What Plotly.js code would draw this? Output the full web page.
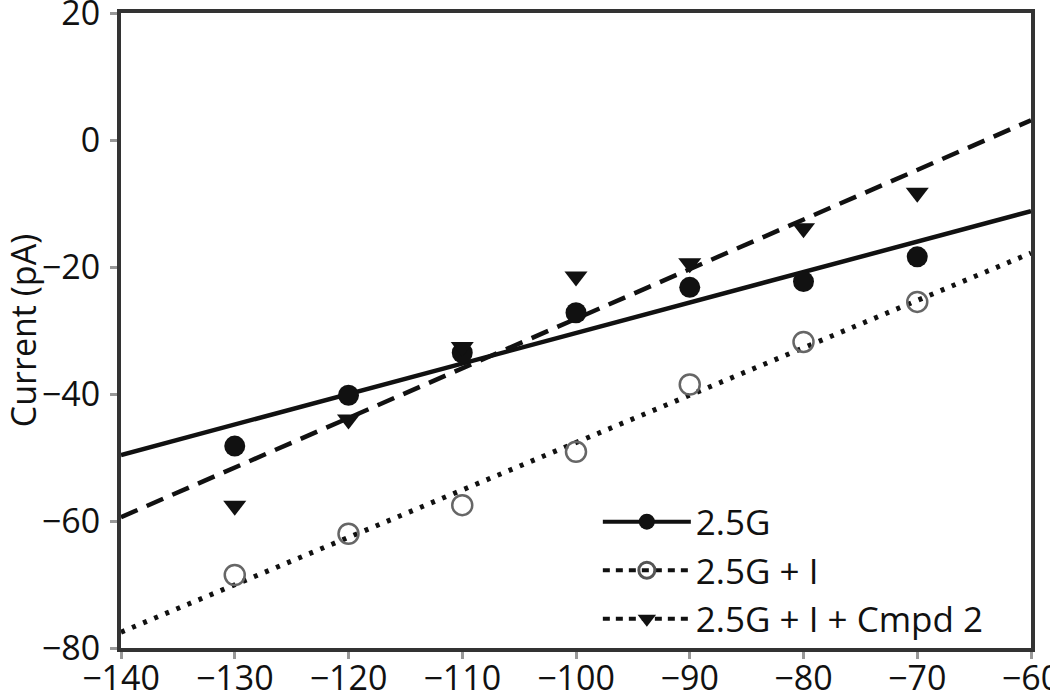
<!DOCTYPE html>
<html>
<head>
<meta charset="utf-8">
<script src="https://cdn.plot.ly/plotly-3.0.1.min.js"></script>
<style>html,body{margin:0;padding:0;background:#fff;}#chart{width:1050px;height:692px;}</style>
</head>
<body>
<div id="chart"></div>
<script>
// Membrane potential (mV)
const voltage = [-130, -120, -110, -100, -90, -80, -70];
// Measured currents (pA)
const g25 = [-48.2, -40.2, -33.5, -27.2, -23.2, -22.3, -18.4];
const g25I = [-68.5, -62.0, -57.5, -49.1, -38.5, -31.8, -25.5];
const g25ICmpd2 = [-57.6, -44.0, -32.6, -21.5, -19.4, -13.9, -8.3];
// Linear fit lines (read at the axis ends)
const fitX = [-140, -60];
const fitG25 = [-49.6, -11.2];
const fitG25I = [-77.5, -17.8];
const fitG25ICmpd2 = [-59.4, 3.1];
const seriesNames = ['2.5G', '2.5G + I', '2.5G + I + Cmpd 2'];
const xTickVals = [-140, -130, -120, -110, -100, -90, -80, -70, -60];
const xTickText = ['−140','−130','−120','−110','−100','−90','−80','−70','−60'];
const yTickVals = [-80, -60, -40, -20, 0, 20];
const yTickText = ['−80','−60','−40','−20','0','20'];

const black = '#111111';
const traces = [
  {x: fitX, y: fitG25, mode: 'lines', line: {color: black, width: 4.5}, showlegend: false, hoverinfo: 'skip'},
  {x: fitX, y: fitG25I, mode: 'lines', line: {color: black, width: 5, dash: '4px,8px'}, showlegend: false, hoverinfo: 'skip'},
  {x: fitX, y: fitG25ICmpd2, mode: 'lines', line: {color: black, width: 4.5, dash: '18px,10px'}, showlegend: false, hoverinfo: 'skip'},
  {x: voltage, y: g25, mode: 'markers', marker: {symbol: 'circle', size: 21, color: black}, showlegend: false},
  {x: voltage, y: g25I, mode: 'markers', marker: {symbol: 'circle-open', size: 20, color: '#666', line: {width: 2.5, color: '#666'}}, showlegend: false},
  {x: voltage, y: g25ICmpd2, mode: 'markers', marker: {symbol: 'triangle-down', size: 20, color: black}, showlegend: false},
  // legend entries
  {x: [null], y: [null], name: seriesNames[0], mode: 'lines+markers', line: {color: black, width: 4}, marker: {symbol: 'circle', size: 22, color: black}},
  {x: [null], y: [null], name: seriesNames[1], mode: 'lines+markers', line: {color: black, width: 4, dash: '7px,6px'}, marker: {symbol: 'circle-open', size: 20, color: '#555', line: {width: 3, color: '#555'}}},
  {x: [null], y: [null], name: seriesNames[2], mode: 'lines+markers', line: {color: black, width: 4, dash: '7px,6px'}, marker: {symbol: 'triangle-down', size: 22, color: black}}
];

const axisCommon = {
  showgrid: false, zeroline: false,
  showline: true, linecolor: '#333', linewidth: 4, mirror: true,
  ticks: 'outside', ticklen: 7, tickwidth: 3, tickcolor: '#999',
  ticklabeloverflow: 'allow',
  tickfont: {family: 'Open Sans, sans-serif', size: 34, color: '#111'}
};

const layout = {
  width: 1050, height: 692,
  margin: {l: 121, r: 19, t: 13, b: 44},
  paper_bgcolor: '#fff', plot_bgcolor: '#fff',
  font: {family: 'Open Sans, sans-serif', color: '#111'},
  xaxis: Object.assign({}, axisCommon, {range: [-140, -60], tickvals: xTickVals, ticktext: xTickText, ticklabelstandoff: -10}),
  yaxis: Object.assign({}, axisCommon, {range: [-80, 20], tickvals: yTickVals, ticktext: yTickText, ticklabelstandoff: 3,
    title: {text: 'Current (pA)', font: {family: 'Open Sans, sans-serif', size: 34, color: '#111'}, standoff: 6}}),
  legend: {x: 0.524, y: 0.245, xanchor: 'left', yanchor: 'top', bgcolor: 'rgba(0,0,0,0)', borderwidth: 0,
    font: {family: 'Open Sans, sans-serif', size: 35, color: '#111'}, itemwidth: 88, traceorder: 'normal'},
  showlegend: true
};

Plotly.newPlot('chart', traces, layout, {displayModeBar: false, staticPlot: true});
</script>
</body>
</html>
